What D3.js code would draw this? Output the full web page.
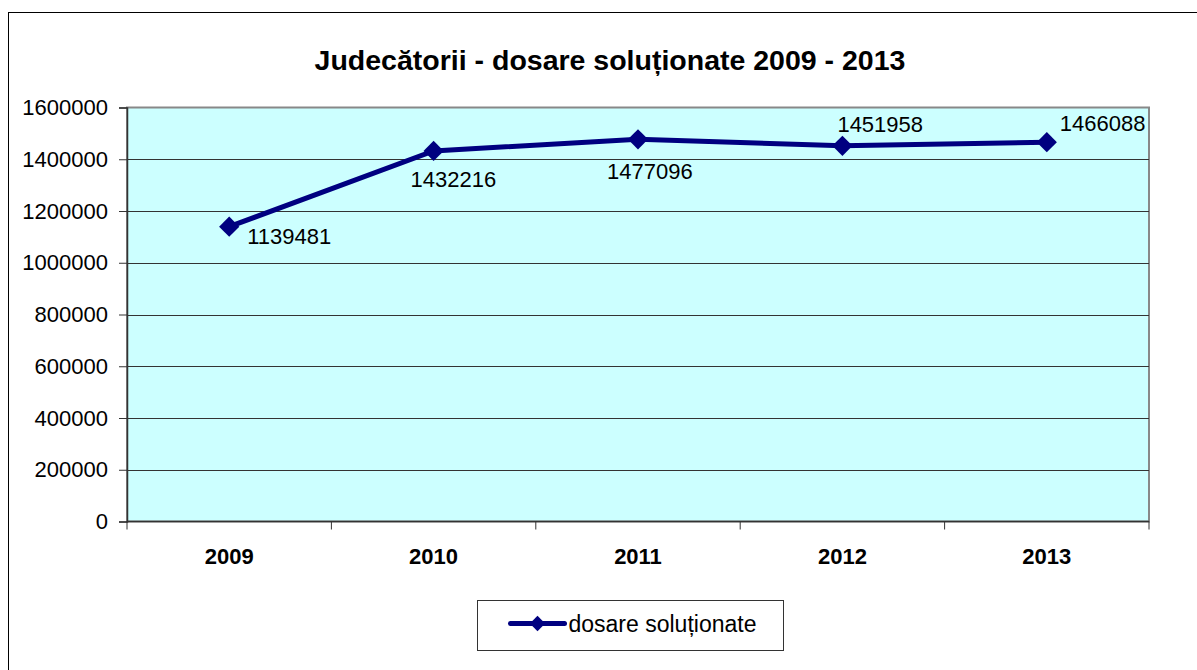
<!DOCTYPE html>
<html>
<head>
<meta charset="utf-8">
<script src="https://cdn.jsdelivr.net/npm/d3@7"></script>
<style>
  body { margin: 0; background: #fff; }
  svg { display: block; font-family: "Liberation Sans", Arial, sans-serif; }
</style>
</head>
<body>
<div id="chart"></div>
<script>
const years = ["2009", "2010", "2011", "2012", "2013"];
const solved = [1139481, 1432216, 1477096, 1451958, 1466088];
const yTicks = [0, 200000, 400000, 600000, 800000, 1000000, 1200000, 1400000, 1600000];
// where each value label sits relative to its point (hand placed, like in the original)
const labelOffsets = [[18, 17], [-23, 36], [-31, 40], [-5, -14], [13, -11]];

const width = 1197, height = 670;
const margin = { top: 107.5, right: 48, bottom: 148.5, left: 127 };

const svg = d3.select("#chart")
  .append("svg")
  .attr("width", width)
  .attr("height", height);

// chart frame
svg.append("rect")
  .attr("x", 8.5).attr("y", 12.5)
  .attr("width", 1200).attr("height", 700)
  .attr("fill", "#fff")
  .attr("stroke", "#000")
  .attr("stroke-width", 1);

svg.append("text")
  .attr("x", 610).attr("y", 70)
  .attr("text-anchor", "middle")
  .attr("font-size", 28.5)
  .attr("font-weight", "bold")
  .text("Judecătorii - dosare soluționate 2009 - 2013");

const x = d3.scaleBand()
  .domain(years)
  .range([margin.left, width - margin.right]);

const y = d3.scaleLinear()
  .domain([0, 1600000])
  .range([height - margin.bottom, margin.top]);

// plot area
svg.append("rect")
  .attr("x", margin.left).attr("y", margin.top)
  .attr("width", x.range()[1] - margin.left)
  .attr("height", y(0) - margin.top)
  .attr("fill", "#ccffff")
  .attr("stroke", "#888")
  .attr("stroke-width", 2);

// gridlines
svg.append("g")
  .selectAll("line")
  .data(yTicks.slice(1, -1))
  .join("line")
  .attr("x1", margin.left).attr("x2", x.range()[1])
  .attr("y1", d => Math.round(y(d)) + 0.5).attr("y2", d => Math.round(y(d)) + 0.5)
  .attr("stroke", "#333")
  .attr("stroke-width", 1);

// y axis
const yAxis = svg.append("g")
  .attr("transform", `translate(${margin.left},0)`)
  .call(d3.axisLeft(y).tickValues(yTicks).tickSize(8).tickPadding(11).tickFormat(d3.format("d")));
yAxis.select(".domain").attr("stroke", "#333").attr("stroke-width", 1.5);
yAxis.selectAll(".tick line").attr("stroke", "#333");
yAxis.selectAll("text").attr("font-size", 22).attr("fill", "#000")
  .attr("font-family", "Liberation Sans, Arial, sans-serif");

// x axis: ticks on band edges
const xAxis = svg.append("g")
  .attr("transform", `translate(0,${y(0)})`);
xAxis.append("line")
  .attr("x1", margin.left).attr("x2", x.range()[1])
  .attr("stroke", "#333").attr("stroke-width", 1.5);
xAxis.selectAll(".edge")
  .data(years.map(d => x(d)).concat([x.range()[1]]))
  .join("line")
  .attr("class", "edge")
  .attr("x1", d => d).attr("x2", d => d)
  .attr("y1", 0).attr("y2", 8)
  .attr("stroke", "#333");
xAxis.selectAll("text")
  .data(years)
  .join("text")
  .attr("x", d => x(d) + x.bandwidth() / 2)
  .attr("y", 42)
  .attr("text-anchor", "middle")
  .attr("font-size", 22)
  .attr("font-weight", "bold")
  .text(d => d);

const pts = years.map((yr, i) => ({ yr, v: solved[i], off: labelOffsets[i] }));
const cx = d => x(d.yr) + x.bandwidth() / 2;

svg.append("path")
  .datum(pts)
  .attr("fill", "none")
  .attr("stroke", "#000080")
  .attr("stroke-width", 5)
  .attr("d", d3.line().x(cx).y(d => y(d.v)));

const diamond = d3.symbol().type(d3.symbolDiamond2).size(260);

svg.append("g")
  .selectAll("path")
  .data(pts)
  .join("path")
  .attr("transform", d => `translate(${cx(d)},${y(d.v)})`)
  .attr("d", diamond)
  .attr("fill", "#000080");

svg.append("g")
  .selectAll("text")
  .data(pts)
  .join("text")
  .attr("x", d => cx(d) + d.off[0])
  .attr("y", d => y(d.v) + d.off[1])
  .attr("font-size", 22)
  .text(d => d.v);

// legend
const lg = svg.append("g").attr("transform", "translate(477.5,600.5)");
lg.append("rect")
  .attr("width", 306).attr("height", 50)
  .attr("fill", "#fff").attr("stroke", "#333");
lg.append("line")
  .attr("x1", 33).attr("x2", 87).attr("y1", 23).attr("y2", 23)
  .attr("stroke", "#000080").attr("stroke-width", 5).attr("stroke-linecap", "round");
lg.append("path")
  .attr("transform", "translate(60,23)")
  .attr("d", d3.symbol().type(d3.symbolDiamond2).size(150))
  .attr("fill", "#000080");
lg.append("text")
  .attr("x", 91).attr("y", 31)
  .attr("font-size", 23)
  .text("dosare soluționate");
</script>
</body>
</html>
